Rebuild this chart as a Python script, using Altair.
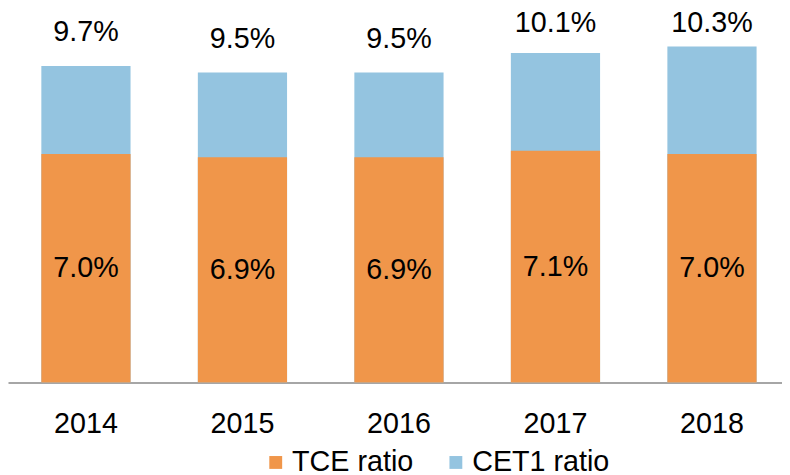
import altair as alt
import pandas as pd

years = ["2014", "2015", "2016", "2017", "2018"]
tce = [7.0, 6.9, 6.9, 7.1, 7.0]
cet1 = [9.7, 9.5, 9.5, 10.1, 10.3]
series = ["TCE ratio", "CET1 ratio"]
colors = ["#F0964A", "#94C4E0"]

FONT = "Liberation Sans"
FS = 29

df_cet1 = pd.DataFrame({"year": years, "value": cet1, "series": "CET1 ratio"})
df_cet1["label"] = [f"{v:.1f}%" for v in cet1]
df_tce = pd.DataFrame({"year": years, "value": tce, "series": "TCE ratio"})
df_tce["label"] = [f"{v:.1f}%" for v in tce]

x = alt.X(
    "year:N",
    sort=years,
    scale=alt.Scale(range=[0, 790], paddingInner=0.43, paddingOuter=0.213),
    axis=alt.Axis(
        title=None, labelAngle=0, labelFontSize=FS, labelFont=FONT,
        labelColor="black", ticks=False, domainColor="#A6A6A6",
        domainWidth=2, labelPadding=27, grid=False,
    ),
)
yscale = alt.Scale(domain=[0, 11.1], nice=False, zero=True)
color = alt.Color(
    "series:N",
    scale=alt.Scale(domain=series, range=colors),
    legend=alt.Legend(
        title=None, orient="none", direction="horizontal",
        legendX=256, legendY=432, symbolType="square", symbolSize=169,
        labelFontSize=FS, labelFont=FONT, labelColor="black",
        symbolStrokeWidth=0, labelOffset=2, columnPadding=28, labelLimit=300,
    ),
)

blue = alt.Chart(df_cet1).mark_bar().encode(
    x=x, y=alt.Y("value:Q", scale=yscale, axis=None), color=color
)
orange = alt.Chart(df_tce).mark_bar().encode(
    x=x, y=alt.Y("value:Q", scale=yscale, axis=None), color=color
)
top_text = alt.Chart(df_cet1).transform_calculate(
    ly="min(datum.value + 0.76, 10.74)"
).mark_text(
    baseline="alphabetic", fontSize=FS, font=FONT, color="black"
).encode(x=x, y=alt.Y("ly:Q", scale=yscale, axis=None), text="label:N")
mid_text = alt.Chart(df_tce).transform_calculate(
    mid="datum.value / 2"
).mark_text(
    baseline="middle", fontSize=FS, font=FONT, color="black"
).encode(x=x, y=alt.Y("mid:Q", scale=yscale, axis=None), text="label:N")

chart = (
    alt.layer(blue, orange, top_text, mid_text)
    .properties(
        width=782, height=366, autosize="none",
        padding={"left": 0, "top": 10, "right": 0, "bottom": 90},
    )
    .configure_view(stroke=None)
)

chart.save("out.html", embed_options={"renderer": "svg", "actions": False})
